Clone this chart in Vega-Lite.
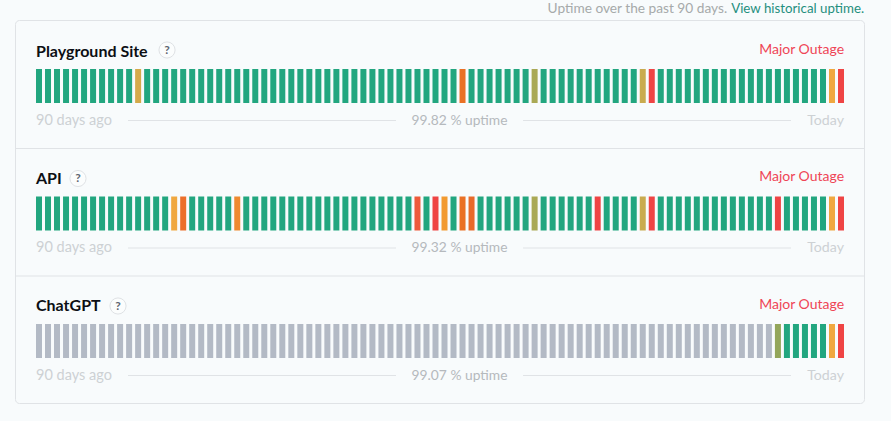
{"$schema":"https://vega.github.io/schema/vega-lite/v6.json","width":849,"height":383,"autosize":{"type":"none"},"padding":{"left":15,"top":20,"right":27,"bottom":18},"background":"#f8fbfc","view":{"stroke":"#e0e3e6","strokeWidth":1,"cornerRadius":4,"fill":"#f8fbfc"},"config":{"font":"Lato"},
"datasets":{"services":[{"service":"Playground Site","status":"Major Outage","uptime":"99.82 % uptime","start":"90 days ago","end":"Today"},{"service":"API","status":"Major Outage","uptime":"99.32 % uptime","start":"90 days ago","end":"Today"},{"service":"ChatGPT","status":"Major Outage","uptime":"99.07 % uptime","start":"90 days ago","end":"Today"}],
"bars":[
{"service":"Playground Site","day":0,"state":"up"},{"service":"Playground Site","day":1,"state":"up"},{"service":"Playground Site","day":2,"state":"up"},{"service":"Playground Site","day":3,"state":"up"},{"service":"Playground Site","day":4,"state":"up"},{"service":"Playground Site","day":5,"state":"up"},{"service":"Playground Site","day":6,"state":"up"},{"service":"Playground Site","day":7,"state":"up"},{"service":"Playground Site","day":8,"state":"up"},{"service":"Playground Site","day":9,"state":"up"},{"service":"Playground Site","day":10,"state":"up"},{"service":"Playground Site","day":11,"state":"t4"},{"service":"Playground Site","day":12,"state":"up"},{"service":"Playground Site","day":13,"state":"up"},{"service":"Playground Site","day":14,"state":"up"},{"service":"Playground Site","day":15,"state":"up"},{"service":"Playground Site","day":16,"state":"up"},{"service":"Playground Site","day":17,"state":"up"},{"service":"Playground Site","day":18,"state":"up"},{"service":"Playground Site","day":19,"state":"up"},{"service":"Playground Site","day":20,"state":"up"},{"service":"Playground Site","day":21,"state":"up"},{"service":"Playground Site","day":22,"state":"up"},{"service":"Playground Site","day":23,"state":"up"},{"service":"Playground Site","day":24,"state":"up"},{"service":"Playground Site","day":25,"state":"up"},{"service":"Playground Site","day":26,"state":"up"},{"service":"Playground Site","day":27,"state":"up"},{"service":"Playground Site","day":28,"state":"up"},{"service":"Playground Site","day":29,"state":"up"},{"service":"Playground Site","day":30,"state":"up"},{"service":"Playground Site","day":31,"state":"up"},{"service":"Playground Site","day":32,"state":"up"},{"service":"Playground Site","day":33,"state":"up"},{"service":"Playground Site","day":34,"state":"up"},{"service":"Playground Site","day":35,"state":"up"},{"service":"Playground Site","day":36,"state":"up"},{"service":"Playground Site","day":37,"state":"up"},{"service":"Playground Site","day":38,"state":"up"},{"service":"Playground Site","day":39,"state":"up"},{"service":"Playground Site","day":40,"state":"up"},{"service":"Playground Site","day":41,"state":"up"},{"service":"Playground Site","day":42,"state":"up"},{"service":"Playground Site","day":43,"state":"up"},{"service":"Playground Site","day":44,"state":"up"},{"service":"Playground Site","day":45,"state":"up"},{"service":"Playground Site","day":46,"state":"up"},{"service":"Playground Site","day":47,"state":"t9"},{"service":"Playground Site","day":48,"state":"up"},{"service":"Playground Site","day":49,"state":"up"},{"service":"Playground Site","day":50,"state":"up"},{"service":"Playground Site","day":51,"state":"up"},{"service":"Playground Site","day":52,"state":"up"},{"service":"Playground Site","day":53,"state":"up"},{"service":"Playground Site","day":54,"state":"up"},{"service":"Playground Site","day":55,"state":"t2"},{"service":"Playground Site","day":56,"state":"up"},{"service":"Playground Site","day":57,"state":"up"},{"service":"Playground Site","day":58,"state":"up"},{"service":"Playground Site","day":59,"state":"up"},{"service":"Playground Site","day":60,"state":"up"},{"service":"Playground Site","day":61,"state":"up"},{"service":"Playground Site","day":62,"state":"up"},{"service":"Playground Site","day":63,"state":"up"},{"service":"Playground Site","day":64,"state":"up"},{"service":"Playground Site","day":65,"state":"up"},{"service":"Playground Site","day":66,"state":"up"},{"service":"Playground Site","day":67,"state":"t3"},{"service":"Playground Site","day":68,"state":"t12"},{"service":"Playground Site","day":69,"state":"up"},{"service":"Playground Site","day":70,"state":"up"},{"service":"Playground Site","day":71,"state":"up"},{"service":"Playground Site","day":72,"state":"up"},{"service":"Playground Site","day":73,"state":"up"},{"service":"Playground Site","day":74,"state":"up"},{"service":"Playground Site","day":75,"state":"up"},{"service":"Playground Site","day":76,"state":"up"},{"service":"Playground Site","day":77,"state":"up"},{"service":"Playground Site","day":78,"state":"up"},{"service":"Playground Site","day":79,"state":"up"},{"service":"Playground Site","day":80,"state":"up"},{"service":"Playground Site","day":81,"state":"up"},{"service":"Playground Site","day":82,"state":"up"},{"service":"Playground Site","day":83,"state":"up"},{"service":"Playground Site","day":84,"state":"up"},{"service":"Playground Site","day":85,"state":"up"},{"service":"Playground Site","day":86,"state":"up"},{"service":"Playground Site","day":87,"state":"up"},{"service":"Playground Site","day":88,"state":"t5"},{"service":"Playground Site","day":89,"state":"t12"},
{"service":"API","day":0,"state":"up"},{"service":"API","day":1,"state":"up"},{"service":"API","day":2,"state":"up"},{"service":"API","day":3,"state":"up"},{"service":"API","day":4,"state":"up"},{"service":"API","day":5,"state":"up"},{"service":"API","day":6,"state":"up"},{"service":"API","day":7,"state":"up"},{"service":"API","day":8,"state":"up"},{"service":"API","day":9,"state":"up"},{"service":"API","day":10,"state":"up"},{"service":"API","day":11,"state":"up"},{"service":"API","day":12,"state":"up"},{"service":"API","day":13,"state":"up"},{"service":"API","day":14,"state":"up"},{"service":"API","day":15,"state":"t5"},{"service":"API","day":16,"state":"t8"},{"service":"API","day":17,"state":"up"},{"service":"API","day":18,"state":"up"},{"service":"API","day":19,"state":"up"},{"service":"API","day":20,"state":"up"},{"service":"API","day":21,"state":"up"},{"service":"API","day":22,"state":"t7"},{"service":"API","day":23,"state":"up"},{"service":"API","day":24,"state":"up"},{"service":"API","day":25,"state":"up"},{"service":"API","day":26,"state":"up"},{"service":"API","day":27,"state":"up"},{"service":"API","day":28,"state":"up"},{"service":"API","day":29,"state":"up"},{"service":"API","day":30,"state":"up"},{"service":"API","day":31,"state":"up"},{"service":"API","day":32,"state":"up"},{"service":"API","day":33,"state":"up"},{"service":"API","day":34,"state":"up"},{"service":"API","day":35,"state":"up"},{"service":"API","day":36,"state":"up"},{"service":"API","day":37,"state":"up"},{"service":"API","day":38,"state":"up"},{"service":"API","day":39,"state":"up"},{"service":"API","day":40,"state":"up"},{"service":"API","day":41,"state":"up"},{"service":"API","day":42,"state":"t11"},{"service":"API","day":43,"state":"up"},{"service":"API","day":44,"state":"t12"},{"service":"API","day":45,"state":"t6"},{"service":"API","day":46,"state":"up"},{"service":"API","day":47,"state":"t9"},{"service":"API","day":48,"state":"t10"},{"service":"API","day":49,"state":"up"},{"service":"API","day":50,"state":"up"},{"service":"API","day":51,"state":"up"},{"service":"API","day":52,"state":"up"},{"service":"API","day":53,"state":"up"},{"service":"API","day":54,"state":"up"},{"service":"API","day":55,"state":"t2"},{"service":"API","day":56,"state":"up"},{"service":"API","day":57,"state":"up"},{"service":"API","day":58,"state":"up"},{"service":"API","day":59,"state":"up"},{"service":"API","day":60,"state":"up"},{"service":"API","day":61,"state":"up"},{"service":"API","day":62,"state":"t12"},{"service":"API","day":63,"state":"up"},{"service":"API","day":64,"state":"up"},{"service":"API","day":65,"state":"up"},{"service":"API","day":66,"state":"up"},{"service":"API","day":67,"state":"t3"},{"service":"API","day":68,"state":"t12"},{"service":"API","day":69,"state":"up"},{"service":"API","day":70,"state":"up"},{"service":"API","day":71,"state":"up"},{"service":"API","day":72,"state":"up"},{"service":"API","day":73,"state":"up"},{"service":"API","day":74,"state":"up"},{"service":"API","day":75,"state":"up"},{"service":"API","day":76,"state":"up"},{"service":"API","day":77,"state":"up"},{"service":"API","day":78,"state":"up"},{"service":"API","day":79,"state":"up"},{"service":"API","day":80,"state":"up"},{"service":"API","day":81,"state":"up"},{"service":"API","day":82,"state":"t12"},{"service":"API","day":83,"state":"up"},{"service":"API","day":84,"state":"up"},{"service":"API","day":85,"state":"up"},{"service":"API","day":86,"state":"up"},{"service":"API","day":87,"state":"up"},{"service":"API","day":88,"state":"t5"},{"service":"API","day":89,"state":"t12"},
{"service":"ChatGPT","day":0,"state":"nd"},{"service":"ChatGPT","day":1,"state":"nd"},{"service":"ChatGPT","day":2,"state":"nd"},{"service":"ChatGPT","day":3,"state":"nd"},{"service":"ChatGPT","day":4,"state":"nd"},{"service":"ChatGPT","day":5,"state":"nd"},{"service":"ChatGPT","day":6,"state":"nd"},{"service":"ChatGPT","day":7,"state":"nd"},{"service":"ChatGPT","day":8,"state":"nd"},{"service":"ChatGPT","day":9,"state":"nd"},{"service":"ChatGPT","day":10,"state":"nd"},{"service":"ChatGPT","day":11,"state":"nd"},{"service":"ChatGPT","day":12,"state":"nd"},{"service":"ChatGPT","day":13,"state":"nd"},{"service":"ChatGPT","day":14,"state":"nd"},{"service":"ChatGPT","day":15,"state":"nd"},{"service":"ChatGPT","day":16,"state":"nd"},{"service":"ChatGPT","day":17,"state":"nd"},{"service":"ChatGPT","day":18,"state":"nd"},{"service":"ChatGPT","day":19,"state":"nd"},{"service":"ChatGPT","day":20,"state":"nd"},{"service":"ChatGPT","day":21,"state":"nd"},{"service":"ChatGPT","day":22,"state":"nd"},{"service":"ChatGPT","day":23,"state":"nd"},{"service":"ChatGPT","day":24,"state":"nd"},{"service":"ChatGPT","day":25,"state":"nd"},{"service":"ChatGPT","day":26,"state":"nd"},{"service":"ChatGPT","day":27,"state":"nd"},{"service":"ChatGPT","day":28,"state":"nd"},{"service":"ChatGPT","day":29,"state":"nd"},{"service":"ChatGPT","day":30,"state":"nd"},{"service":"ChatGPT","day":31,"state":"nd"},{"service":"ChatGPT","day":32,"state":"nd"},{"service":"ChatGPT","day":33,"state":"nd"},{"service":"ChatGPT","day":34,"state":"nd"},{"service":"ChatGPT","day":35,"state":"nd"},{"service":"ChatGPT","day":36,"state":"nd"},{"service":"ChatGPT","day":37,"state":"nd"},{"service":"ChatGPT","day":38,"state":"nd"},{"service":"ChatGPT","day":39,"state":"nd"},{"service":"ChatGPT","day":40,"state":"nd"},{"service":"ChatGPT","day":41,"state":"nd"},{"service":"ChatGPT","day":42,"state":"nd"},{"service":"ChatGPT","day":43,"state":"nd"},{"service":"ChatGPT","day":44,"state":"nd"},{"service":"ChatGPT","day":45,"state":"nd"},{"service":"ChatGPT","day":46,"state":"nd"},{"service":"ChatGPT","day":47,"state":"nd"},{"service":"ChatGPT","day":48,"state":"nd"},{"service":"ChatGPT","day":49,"state":"nd"},{"service":"ChatGPT","day":50,"state":"nd"},{"service":"ChatGPT","day":51,"state":"nd"},{"service":"ChatGPT","day":52,"state":"nd"},{"service":"ChatGPT","day":53,"state":"nd"},{"service":"ChatGPT","day":54,"state":"nd"},{"service":"ChatGPT","day":55,"state":"nd"},{"service":"ChatGPT","day":56,"state":"nd"},{"service":"ChatGPT","day":57,"state":"nd"},{"service":"ChatGPT","day":58,"state":"nd"},{"service":"ChatGPT","day":59,"state":"nd"},{"service":"ChatGPT","day":60,"state":"nd"},{"service":"ChatGPT","day":61,"state":"nd"},{"service":"ChatGPT","day":62,"state":"nd"},{"service":"ChatGPT","day":63,"state":"nd"},{"service":"ChatGPT","day":64,"state":"nd"},{"service":"ChatGPT","day":65,"state":"nd"},{"service":"ChatGPT","day":66,"state":"nd"},{"service":"ChatGPT","day":67,"state":"nd"},{"service":"ChatGPT","day":68,"state":"nd"},{"service":"ChatGPT","day":69,"state":"nd"},{"service":"ChatGPT","day":70,"state":"nd"},{"service":"ChatGPT","day":71,"state":"nd"},{"service":"ChatGPT","day":72,"state":"nd"},{"service":"ChatGPT","day":73,"state":"nd"},{"service":"ChatGPT","day":74,"state":"nd"},{"service":"ChatGPT","day":75,"state":"nd"},{"service":"ChatGPT","day":76,"state":"nd"},{"service":"ChatGPT","day":77,"state":"nd"},{"service":"ChatGPT","day":78,"state":"nd"},{"service":"ChatGPT","day":79,"state":"nd"},{"service":"ChatGPT","day":80,"state":"nd"},{"service":"ChatGPT","day":81,"state":"nd"},{"service":"ChatGPT","day":82,"state":"t1"},{"service":"ChatGPT","day":83,"state":"up"},{"service":"ChatGPT","day":84,"state":"up"},{"service":"ChatGPT","day":85,"state":"up"},{"service":"ChatGPT","day":86,"state":"up"},{"service":"ChatGPT","day":87,"state":"up"},{"service":"ChatGPT","day":88,"state":"t5"},{"service":"ChatGPT","day":89,"state":"t12"}
]},
"resolve":{"scale":{"x":"independent"}},
"layer":[
{"data":{"name":"bars"},"mark":{"type":"rect"},"encoding":{
"x":{"field":"day","type":"ordinal","axis":null,"scale":{"type":"band","range":[21,829],"paddingInner":0.3333,"paddingOuter":0}},
"y":{"field":"service","type":"nominal","axis":null,"scale":{"type":"band","domain":["Playground Site","API","ChatGPT"],"range":[49,338],"paddingInner":0.7333,"paddingOuter":0}},
"color":{"field":"state","type":"nominal","legend":null,"scale":{"domain":["up","nd","t1","t2","t3","t4","t5","t6","t7","t8","t9","t10","t11","t12"],"range":["#22a67f","#b3bac5","#93a65a","#aaa955","#c9ab4f","#d4aa4a","#f0a840","#f29a30","#ef8a30","#ec6f2b","#ea7125","#e86a2a","#ee5a3a","#ef4444"]}}}},
{"data":{"name":"services"},
"encoding":{"y":{"field":"service","type":"nominal","axis":null,"bandPosition":0}},
"layer":[
{"transform":[{"filter":"datum.service != 'Playground Site'"}],"mark":{"type":"rule","stroke":"#e0e3e6","strokeWidth":1,"yOffset":-48}},
{"mark":{"type":"rule","stroke":"#e0e3e6","strokeWidth":1,"yOffset":51.5},"encoding":{"x":{"datum":10.21,"type":"quantitative","axis":null,"scale":{"domain":[0,90],"range":[21,832]}},"x2":{"datum":39.95}}},
{"mark":{"type":"rule","stroke":"#e0e3e6","strokeWidth":1,"yOffset":51.5},"encoding":{"x":{"datum":54.05,"type":"quantitative"},"x2":{"datum":83.79}}},
{"mark":{"type":"text","align":"left","baseline":"middle","dy":-17.5,"fontSize":16,"fontWeight":700,"fill":"#0c0f14"},"encoding":{"x":{"datum":0,"type":"quantitative"},"text":{"field":"service"}}},
{"mark":{"type":"text","align":"right","baseline":"middle","dy":-19,"fontSize":14,"fill":"#ef4556"},"encoding":{"x":{"datum":89.67,"type":"quantitative"},"text":{"field":"status"}}},
{"mark":{"type":"text","align":"left","baseline":"middle","dy":52,"fontSize":14.5,"fill":"#cdd1d4"},"encoding":{"x":{"datum":0,"type":"quantitative"},"text":{"field":"start"}}},
{"mark":{"type":"text","align":"right","baseline":"middle","dy":52,"fontSize":14.2,"fill":"#cdd1d4"},"encoding":{"x":{"datum":89.67,"type":"quantitative"},"text":{"field":"end"}}},
{"mark":{"type":"text","align":"center","baseline":"middle","dy":52,"fontSize":13.8,"fill":"#b5b9bd"},"encoding":{"x":{"datum":47,"type":"quantitative"},"text":{"field":"uptime"}}},
{"transform":[{"filter":"datum.service == 'Playground Site'"}],"layer":[
{"mark":{"type":"point","filled":false,"size":260,"stroke":"#dfe2e5","fill":"#fbfdfd","fillOpacity":1,"strokeWidth":1,"yOffset":-19},"encoding":{"x":{"datum":14.54,"type":"quantitative"}}},
{"mark":{"type":"text","text":"?","align":"center","baseline":"middle","dy":-19,"fontSize":12,"fontWeight":700,"fill":"#5f6570"},"encoding":{"x":{"datum":14.54,"type":"quantitative"}}},
{"mark":{"type":"text","text":"Uptime over the past 90 days.","align":"right","baseline":"middle","dy":-60.5,"fontSize":13.7,"fill":"#a6aaaa"},"encoding":{"x":{"datum":76.7,"type":"quantitative"}}},
{"mark":{"type":"text","text":"View historical uptime.","align":"right","baseline":"middle","dy":-60.5,"fontSize":13.3,"fill":"#1f8f7e"},"encoding":{"x":{"datum":91.9,"type":"quantitative"}}}]},
{"transform":[{"filter":"datum.service == 'API'"}],"layer":[
{"mark":{"type":"point","filled":false,"size":260,"stroke":"#dfe2e5","fill":"#fbfdfd","fillOpacity":1,"strokeWidth":1,"yOffset":-18},"encoding":{"x":{"datum":4.66,"type":"quantitative"}}},
{"mark":{"type":"text","text":"?","align":"center","baseline":"middle","dy":-18,"fontSize":12,"fontWeight":700,"fill":"#5f6570"},"encoding":{"x":{"datum":4.66,"type":"quantitative"}}}]},
{"transform":[{"filter":"datum.service == 'ChatGPT'"}],"layer":[
{"mark":{"type":"point","filled":false,"size":260,"stroke":"#dfe2e5","fill":"#fbfdfd","fillOpacity":1,"strokeWidth":1,"yOffset":-18},"encoding":{"x":{"datum":9.1,"type":"quantitative"}}},
{"mark":{"type":"text","text":"?","align":"center","baseline":"middle","dy":-18,"fontSize":12,"fontWeight":700,"fill":"#5f6570"},"encoding":{"x":{"datum":9.1,"type":"quantitative"}}}]}
]}
]}
